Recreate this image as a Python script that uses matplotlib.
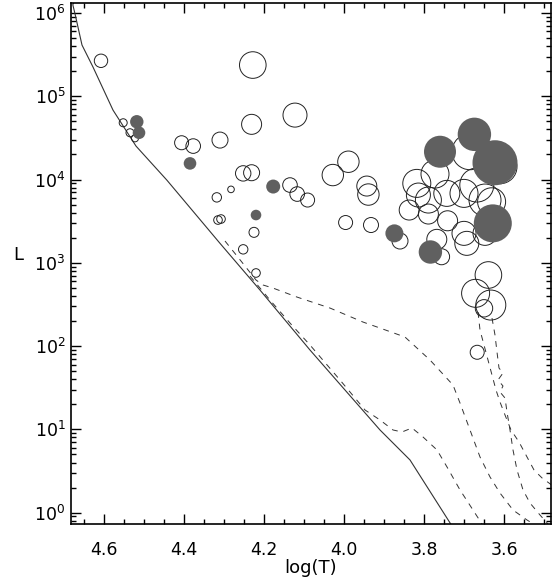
import numpy as np
import matplotlib.pyplot as plt
from matplotlib.ticker import FixedLocator, MultipleLocator, LogLocator, NullFormatter

# ZAMS (solid line)
zams_logT = [4.676, 4.678, 4.672, 4.655, 4.6275, 4.5775, 4.52, 4.443, 4.31, 4.21, 4.085, 3.91, 3.835, 3.73]
zams_logL = [6.119, 6.10, 5.98, 5.615, 5.351, 4.834, 4.402, 3.994, 3.234, 2.673, 1.953, 0.993, 0.633, -0.16]

# evolutionary tracks (dashed)
trA_logT = [4.2975, 4.2575, 4.22, 4.2025, 4.1775, 4.1175, 4.035, 3.9525, 3.91, 3.8475, 3.785, 3.7275,
            3.71, 3.685, 3.66, 3.635, 3.61, 3.5775, 3.5425, 3.5175]
trA_logL = [3.262, 3.022, 2.794, 2.734, 2.697, 2.589, 2.457, 2.289, 2.217, 2.109, 1.833, 1.533,
            1.317, 0.993, 0.669, 0.429, 0.236, 0.032, -0.088, -0.16]

trB_logT = [4.235, 4.185, 4.135, 4.085, 4.01, 3.9475, 3.91, 3.8775, 3.855, 3.83, 3.8025, 3.7675,
            3.7425, 3.71, 3.6775, 3.655]
trB_logL = [2.842, 2.553, 2.277, 2.013, 1.593, 1.233, 1.113, 0.993, 0.969, 1.017, 0.909, 0.753,
            0.549, 0.273, 0.032, -0.136]

trC_logT = [3.665, 3.66, 3.65, 3.64, 3.63, 3.62, 3.61, 3.5975, 3.5825, 3.5625, 3.5425, 3.525, 3.505, 3.4775]
trC_logL = [2.409, 2.193, 2.013, 1.833, 1.653, 1.473, 1.329, 1.173, 0.993, 0.849, 0.669, 0.513, 0.417, 0.321]

trD_logT = [3.63, 3.6225, 3.6175, 3.6125, 3.6025, 3.615, 3.6025, 3.61, 3.5975, 3.5925, 3.585, 3.5775,
            3.5675, 3.5525, 3.535, 3.51, 3.49]
trD_logL = [2.337, 2.133, 1.929, 1.737, 1.677, 1.593, 1.521, 1.449, 1.377, 1.209, 0.993, 0.753,
            0.513, 0.273, 0.116, -0.028, -0.136]

# stars, open symbols
open_logT = [4.6075, 4.552, 4.535, 4.5225, 4.406, 4.377, 4.31, 4.228, 4.231, 4.1225, 4.252, 4.231,
             4.2825, 4.318, 4.135, 4.117, 4.091, 4.315, 4.3075, 4.225, 4.252, 4.22, 3.989, 4.028,
             3.943, 3.939, 3.996, 3.9325, 3.86, 3.756, 3.685, 3.7725, 3.818, 3.814, 3.789, 3.743,
             3.70, 3.668, 3.6475, 3.631, 3.61, 3.837, 3.789, 3.741, 3.70, 3.693, 3.6475, 3.768,
             3.639, 3.671, 3.633, 3.65, 3.667]
open_logL = [5.426, 4.682, 4.562, 4.495, 4.442, 4.402, 4.474, 5.375, 4.663, 4.774, 4.074, 4.082,
             3.882, 3.786, 3.934, 3.826, 3.754, 3.514, 3.526, 3.366, 3.162, 2.878, 4.214, 4.054,
             3.922, 3.820, 3.484, 3.454, 3.262, 3.073, 4.334, 4.066, 3.954, 3.814, 3.754, 3.834,
             3.834, 3.934, 3.754, 3.733, 4.154, 3.634, 3.586, 3.505, 3.354, 3.234, 3.354, 3.282,
             2.854, 2.634, 2.493, 2.454, 1.926]
open_size = [6.7, 4, 4, 3.5, 7, 7.3, 8, 13.3, 10, 12, 7.7, 8,
             3.3, 4.7, 7.3, 7.3, 7, 4.3, 4.3, 5, 4.7, 4.3, 10.7, 10.7,
             10, 10.7, 7, 7.5, 8, 8, 18, 14, 14, 12, 13, 13,
             14, 17, 16, 14, 17, 10, 10, 10, 12, 12, 12, 10,
             13.3, 14, 15, 8.7, 7]

# stars, filled symbols
fill_logT = [4.518, 4.5125, 4.385, 4.177, 4.22, 3.874, 3.784, 3.76, 3.674, 3.6225, 3.628]
fill_logL = [4.694, 4.562, 4.194, 3.916, 3.574, 3.354, 3.130, 4.334, 4.543, 4.202, 3.474]
fill_size = [6.7, 6.3, 6.3, 7, 5.3, 9, 11.7, 16, 16.7, 22.5, 19]

x_ticks = [4.6, 4.4, 4.2, 4.0, 3.8, 3.6]
y_ticks = [1, 10, 100, 1e3, 1e4, 1e5, 1e6]

plt.rcParams['font.family'] = 'DejaVu Sans'
fig = plt.figure(figsize=(5.55, 5.85), dpi=100)
ax = fig.add_axes([71/555, 1 - 524/585, 480/555, 521/585])

def pts(r):
    return (np.array(r) * 1.44) ** 2

ax.plot(zams_logT, 10 ** np.array(zams_logL), color='#333333', lw=0.8)
for tx, ty in [(trA_logT, trA_logL), (trB_logT, trB_logL), (trC_logT, trC_logL), (trD_logT, trD_logL)]:
    ax.plot(tx, 10 ** np.array(ty), color='#333333', lw=0.7, dashes=(6, 6))

ax.scatter(open_logT, 10 ** np.array(open_logL), s=pts(open_size), facecolors='none',
           edgecolors='#222222', linewidths=0.7, zorder=3)
ax.scatter(fill_logT, 10 ** np.array(fill_logL), s=pts(fill_size), facecolors='#606060',
           edgecolors='none', zorder=4)

ax.set_yscale('log')
ax.set_xlim(4.6825, 3.4825)
ax.set_ylim(10 ** -0.136, 10 ** 6.12)
ax.xaxis.set_major_locator(FixedLocator(x_ticks))
ax.xaxis.set_minor_locator(MultipleLocator(0.05))
ax.yaxis.set_major_locator(FixedLocator(y_ticks))
ax.yaxis.set_minor_locator(LogLocator(base=10, subs=np.arange(2, 10), numticks=20))
ax.yaxis.set_minor_formatter(NullFormatter())
ax.xaxis.set_major_formatter(plt.FuncFormatter(lambda v, p: '%.1f' % v))
ax.yaxis.set_major_formatter(plt.FuncFormatter(lambda v, p: r'$10^{%d}$' % round(np.log10(v))))

ax.tick_params(which='both', direction='in', top=True, right=True, labelsize=12.5, width=1)
ax.tick_params(which='major', length=7)
ax.tick_params(which='minor', length=3.5)
ax.tick_params(axis='x', pad=12)
ax.tick_params(axis='y', pad=4)
for sp in ax.spines.values():
    sp.set_linewidth(1.2)

ax.set_xlabel('log(T)', fontsize=13, labelpad=0)
ax.set_ylabel('L', fontsize=13, rotation=0)
ax.yaxis.set_label_coords(-0.11, 0.5)

fig.savefig('out.png', dpi=100)
